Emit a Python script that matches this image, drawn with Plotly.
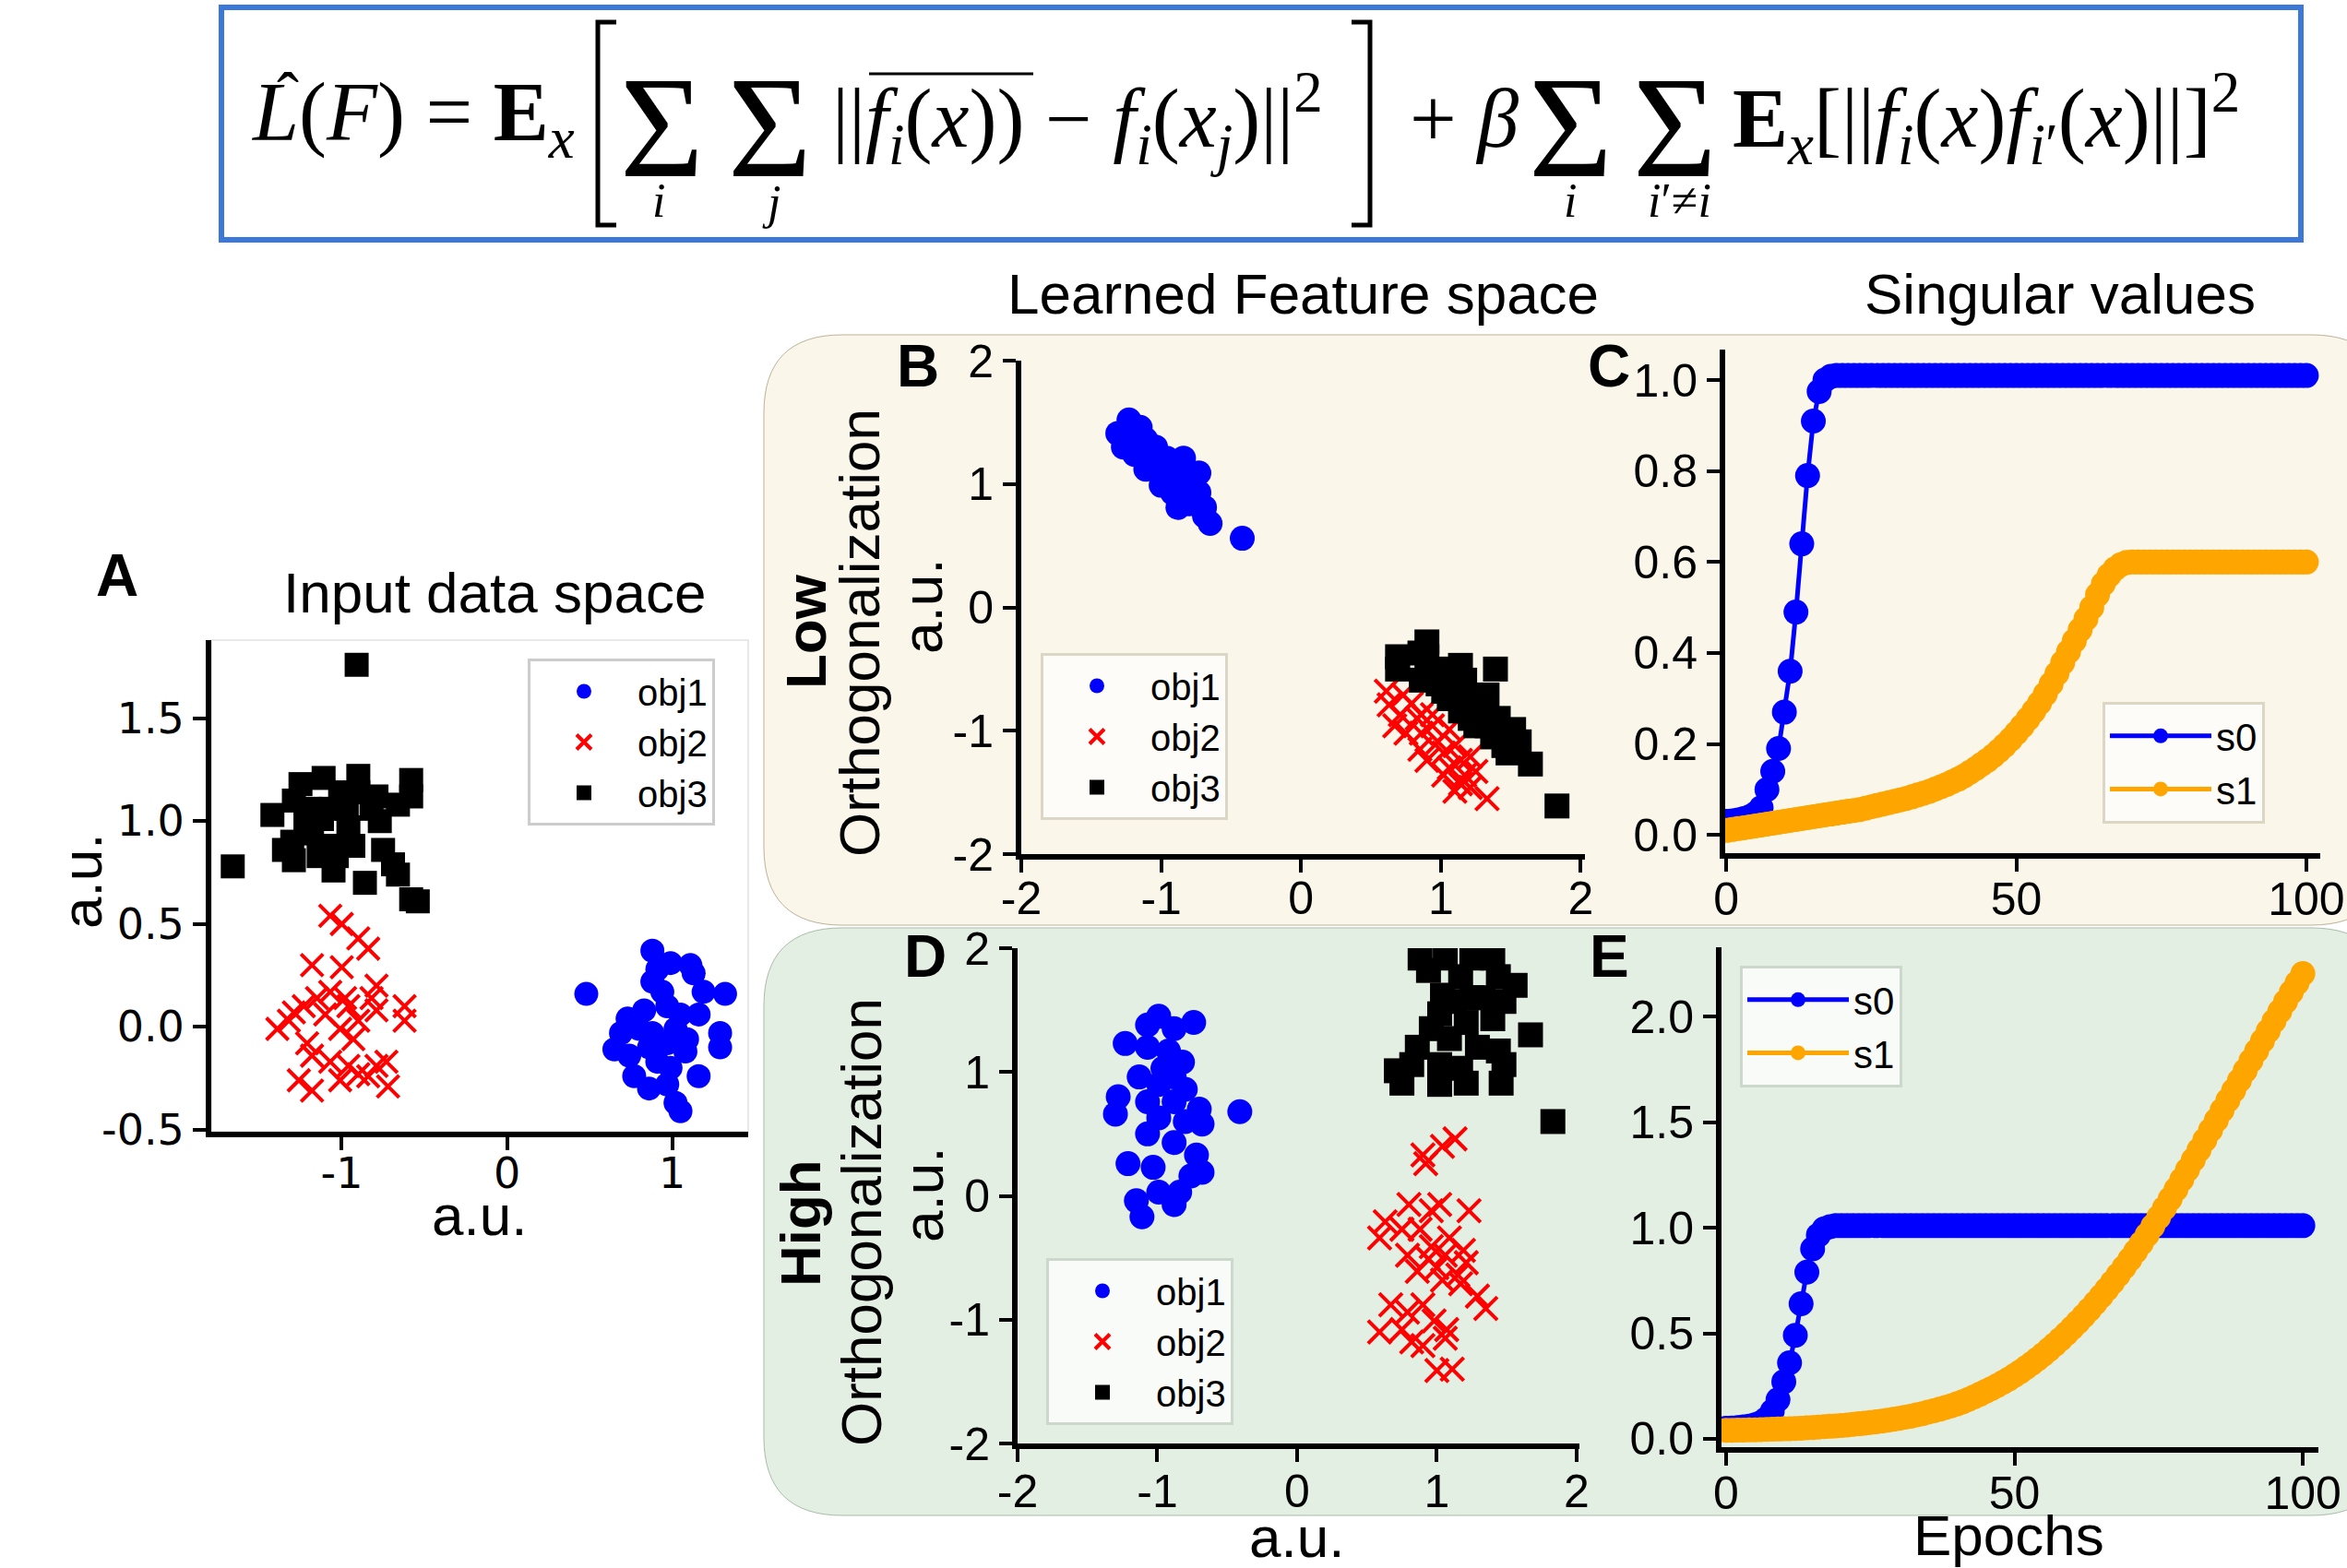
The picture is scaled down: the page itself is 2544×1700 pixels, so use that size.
import plotly.graph_objects as go

W, H = 2544, 1700
def px(v): return v / W
def py(v): return 1 - v / H

# ------------------------------------------------------------------ data
epochs = list(range(101))

a_obj1_x = [0.48, 0.88, 0.99, 1.11, 1.13, 1.32, 0.88, 0.94, 0.73, 0.83, 0.97, 1.05, 1.16, 0.80, 0.88, 1.02, 0.65, 0.74, 0.86, 0.97, 1.08, 1.29, 1.29, 0.77, 0.86, 0.97, 0.99, 1.16, 1.02, 1.05, 0.69, 1.19, 0.91, 1.09, 0.91]
a_obj1_y = [0.16, 0.37, 0.31, 0.30, 0.26, 0.16, 0.22, 0.17, 0.04, 0.08, 0.10, 0.06, 0.06, -0.01, -0.03, -0.01, -0.11, -0.14, -0.10, -0.08, -0.12, -0.03, -0.10, -0.24, -0.30, -0.28, -0.20, -0.24, -0.37, -0.41, -0.03, 0.17, 0.28, -0.06, -0.17]
a_obj2_x = [-1.07, -1.00, -0.90, -0.84, -1.18, -1.00, -0.79, -1.39, -1.32, -1.23, -1.15, -1.07, -0.96, -0.90, -0.82, -0.79, -0.62, -0.62, -1.21, -1.18, -1.07, -0.96, -1.01, -0.93, -0.79, -0.73, -1.26, -1.18, -1.01, -0.90, -0.84, -0.72, -1.10, -0.98, -1.29]
a_obj2_y = [0.54, 0.50, 0.43, 0.38, 0.30, 0.29, 0.20, -0.01, 0.03, 0.10, 0.14, 0.17, 0.10, 0.03, 0.14, 0.08, 0.10, 0.03, -0.08, -0.14, -0.17, -0.19, -0.01, -0.06, -0.19, -0.17, -0.26, -0.31, -0.26, -0.23, -0.24, -0.29, 0.06, 0.14, 0.07]
a_obj3_x = [-0.91, -1.66, -1.42, -1.25, -1.11, -0.90, -0.58, -0.58, -0.66, -0.79, -0.77, -1.01, -1.07, -1.19, -1.29, -1.18, -1.30, -1.29, -1.14, -1.05, -0.93, -0.96, -0.86, -0.75, -0.66, -0.58, -0.54, -1.12, -1.07, -0.97, -0.82, -1.22, -1.03, -0.90, -1.35, -0.69]
a_obj3_y = [1.76, 0.78, 1.03, 1.18, 1.21, 1.22, 1.20, 1.12, 1.08, 1.12, 1.00, 1.14, 1.06, 1.06, 1.10, 0.94, 0.90, 0.81, 0.83, 0.76, 0.88, 0.97, 0.70, 0.86, 0.74, 0.62, 0.61, 1.01, 0.88, 1.06, 1.06, 1.01, 0.83, 1.14, 0.86, 0.79]

b_obj1_x = [-1.23, -1.31, -1.11, -1.19, -1.04, -0.96, -1.11, -0.88, -0.73, -1.00, -0.84, -0.76, -0.69, -0.88, -0.65, -0.42, -1.19, -1.07, -0.96, -0.80, -1.04, -0.92, -0.80, -0.73, -1.15, -1.27, -1.00, -0.84, -0.92, -0.69]
b_obj1_y = [1.52, 1.41, 1.36, 1.24, 1.30, 1.21, 1.12, 1.09, 1.09, 0.99, 0.93, 0.87, 0.81, 0.81, 0.68, 0.56, 1.33, 1.18, 1.05, 0.99, 1.27, 1.15, 0.84, 0.93, 1.46, 1.30, 1.15, 1.21, 0.93, 0.74]
b_obj2_x = [0.61, 0.63, 0.71, 0.79, 0.83, 0.67, 0.86, 0.94, 0.98, 0.85, 1.02, 1.10, 1.14, 1.21, 1.06, 1.17, 1.25, 1.10, 1.33, 0.90, 0.75, 0.94, 1.02, 1.14, 0.86, 1.06, 1.21, 0.73]
b_obj2_y = [-0.68, -0.79, -0.87, -0.78, -0.90, -0.96, -1.02, -0.96, -1.09, -1.15, -1.18, -1.12, -1.24, -1.21, -1.30, -1.36, -1.33, -1.49, -1.55, -1.24, -1.02, -0.87, -1.36, -1.43, -0.87, -0.99, -1.46, -0.71]
b_obj3_x = [0.90, 0.69, 0.69, 0.90, 0.98, 1.39, 0.86, 1.06, 1.17, 1.02, 1.21, 1.14, 1.29, 1.25, 1.41, 1.37, 1.52, 1.48, 1.56, 1.64, 1.83, 0.98, 1.12, 1.33, 1.21, 1.45, 1.06, 0.85, 1.33, 1.14]
b_obj3_y = [-0.28, -0.40, -0.50, -0.40, -0.50, -0.50, -0.59, -0.56, -0.59, -0.68, -0.74, -0.84, -0.84, -0.96, -0.90, -1.05, -0.99, -1.18, -1.09, -1.27, -1.61, -0.62, -0.67, -0.71, -0.90, -1.12, -0.74, -0.37, -0.96, -0.47]

d_obj1_x = [-0.99, -1.07, -0.88, -0.74, -1.23, -1.07, -0.92, -0.82, -1.13, -0.99, -0.80, -1.28, -1.30, -1.07, -0.88, -0.70, -0.41, -0.99, -0.80, -0.68, -1.07, -0.88, -0.72, -1.21, -1.03, -0.68, -0.76, -1.15, -1.11, -0.88, -0.84, -0.99, -0.96, -0.88]
d_obj1_y = [1.45, 1.38, 1.35, 1.40, 1.23, 1.20, 1.17, 1.08, 0.96, 0.90, 0.86, 0.80, 0.66, 0.76, 0.76, 0.70, 0.68, 0.63, 0.60, 0.58, 0.50, 0.43, 0.33, 0.26, 0.23, 0.19, 0.16, -0.04, -0.17, -0.07, 0.03, 0.03, 1.03, 0.96]
d_obj2_x = [1.13, 1.04, 0.90, 0.92, 0.80, 1.02, 0.96, 1.23, 0.63, 0.59, 0.75, 0.88, 0.96, 1.09, 0.79, 0.94, 1.06, 1.19, 0.86, 1.00, 1.15, 1.21, 0.67, 1.29, 1.35, 0.79, 0.90, 0.59, 0.75, 0.98, 1.07, 0.82, 0.90, 1.06, 1.00, 1.11, 1.17, 1.04]
d_obj2_y = [0.46, 0.40, 0.33, 0.26, -0.07, -0.07, -0.12, -0.12, -0.21, -0.34, -0.27, -0.27, -0.41, -0.34, -0.48, -0.51, -0.48, -0.44, -0.61, -0.58, -0.64, -0.54, -0.88, -0.81, -0.91, -0.94, -0.88, -1.10, -1.08, -1.01, -1.08, -1.18, -1.21, -1.15, -1.41, -1.40, -0.71, -0.68]
d_obj3_x = [0.88, 1.06, 1.25, 1.40, 0.94, 1.17, 1.44, 1.56, 1.04, 1.25, 1.48, 1.02, 1.21, 1.40, 0.96, 1.09, 1.67, 0.86, 1.29, 1.44, 0.71, 0.82, 1.02, 1.17, 1.48, 0.75, 1.02, 1.21, 1.46, 1.83, 1.33, 1.13]
d_obj3_y = [1.92, 1.92, 1.92, 1.92, 1.82, 1.77, 1.77, 1.70, 1.62, 1.60, 1.57, 1.47, 1.40, 1.43, 1.35, 1.27, 1.30, 1.20, 1.20, 1.17, 1.01, 1.06, 1.06, 1.03, 1.06, 0.91, 0.90, 0.91, 0.91, 0.60, 1.60, 1.57]

c_s0 = [0.030, 0.031, 0.033, 0.036, 0.040, 0.047, 0.060, 0.100, 0.140, 0.190,
        0.270, 0.360, 0.490, 0.640, 0.790, 0.910, 0.975, 1.000, 1.008, 1.010,
        1.010, 1.010, 1.010, 1.010, 1.010, 1.010, 1.010, 1.010, 1.010, 1.010,
        1.010, 1.010, 1.010, 1.010, 1.010, 1.010, 1.010, 1.010, 1.010, 1.010,
        1.010, 1.010, 1.010, 1.010, 1.010, 1.010, 1.010, 1.010, 1.010, 1.010,
        1.010, 1.010, 1.010, 1.010, 1.010, 1.010, 1.010, 1.010, 1.010, 1.010,
        1.010, 1.010, 1.010, 1.010, 1.010, 1.010, 1.010, 1.010, 1.010, 1.010,
        1.010, 1.010, 1.010, 1.010, 1.010, 1.010, 1.010, 1.010, 1.010, 1.010,
        1.010, 1.010, 1.010, 1.010, 1.010, 1.010, 1.010, 1.010, 1.010, 1.010,
        1.010, 1.010, 1.010, 1.010, 1.010, 1.010, 1.010, 1.010, 1.010, 1.010,
        1.010]
c_s1 = [0.010, 0.012, 0.014, 0.016, 0.018, 0.020, 0.022, 0.024, 0.026, 0.028,
        0.030, 0.032, 0.034, 0.036, 0.038, 0.040, 0.042, 0.044, 0.046, 0.048,
        0.050, 0.052, 0.054, 0.056, 0.059, 0.062, 0.065, 0.068, 0.071, 0.074,
        0.077, 0.080, 0.084, 0.088, 0.092, 0.096, 0.101, 0.106, 0.111, 0.117,
        0.123, 0.130, 0.138, 0.146, 0.155, 0.164, 0.174, 0.185, 0.197, 0.210,
        0.224, 0.239, 0.255, 0.272, 0.290, 0.310, 0.332, 0.355, 0.379, 0.403,
        0.427, 0.451, 0.475, 0.500, 0.528, 0.552, 0.571, 0.585, 0.594, 0.599,
        0.600, 0.600, 0.600, 0.600, 0.600, 0.600, 0.600, 0.600, 0.600, 0.600,
        0.600, 0.600, 0.600, 0.600, 0.600, 0.600, 0.600, 0.600, 0.600, 0.600,
        0.600, 0.600, 0.600, 0.600, 0.600, 0.600, 0.600, 0.600, 0.600, 0.600,
        0.600]
e_s0 = [0.050, 0.051, 0.053, 0.056, 0.060, 0.066, 0.076, 0.095, 0.130, 0.185,
        0.270, 0.360, 0.490, 0.640, 0.790, 0.900, 0.965, 0.995, 1.005, 1.010,
        1.010, 1.010, 1.010, 1.010, 1.010, 1.010, 1.010, 1.010, 1.010, 1.010,
        1.010, 1.010, 1.010, 1.010, 1.010, 1.010, 1.010, 1.010, 1.010, 1.010,
        1.010, 1.010, 1.010, 1.010, 1.010, 1.010, 1.010, 1.010, 1.010, 1.010,
        1.010, 1.010, 1.010, 1.010, 1.010, 1.010, 1.010, 1.010, 1.010, 1.010,
        1.010, 1.010, 1.010, 1.010, 1.010, 1.010, 1.010, 1.010, 1.010, 1.010,
        1.010, 1.010, 1.010, 1.010, 1.010, 1.010, 1.010, 1.010, 1.010, 1.010,
        1.010, 1.010, 1.010, 1.010, 1.010, 1.010, 1.010, 1.010, 1.010, 1.010,
        1.010, 1.010, 1.010, 1.010, 1.010, 1.010, 1.010, 1.010, 1.010, 1.010,
        1.010]
e_s1 = [0.040, 0.040, 0.041, 0.041, 0.042, 0.042, 0.043, 0.044, 0.045, 0.046,
        0.047, 0.048, 0.049, 0.050, 0.052, 0.053, 0.055, 0.057, 0.059, 0.061,
        0.063, 0.065, 0.068, 0.071, 0.074, 0.077, 0.080, 0.084, 0.088, 0.092,
        0.097, 0.102, 0.107, 0.113, 0.119, 0.126, 0.133, 0.140, 0.148, 0.156,
        0.165, 0.175, 0.186, 0.198, 0.211, 0.225, 0.238, 0.252, 0.267, 0.283,
        0.300, 0.318, 0.337, 0.357, 0.378, 0.400, 0.423, 0.447, 0.472, 0.498,
        0.525, 0.553, 0.582, 0.612, 0.643, 0.675, 0.708, 0.742, 0.777, 0.813,
        0.850, 0.888, 0.927, 0.967, 1.008, 1.050, 1.093, 1.137, 1.182, 1.228,
        1.275, 1.322, 1.369, 1.416, 1.463, 1.510, 1.557, 1.604, 1.651, 1.698,
        1.745, 1.792, 1.839, 1.886, 1.933, 1.980, 2.026, 2.072, 2.117, 2.161,
        2.205]

a_xticks = [-1, 0, 1]
a_xticktext = ["-1", "0", "1"]
a_yticks = [-0.5, 0.0, 0.5, 1.0, 1.5]
a_yticktext = ["-0.5", "0.0", "0.5", "1.0", "1.5"]
feat_ticks = [-2, -1, 0, 1, 2]
feat_ticktext = ["-2", "-1", "0", "1", "2"]
ep_ticks = [0, 50, 100]
ep_ticktext = ["0", "50", "100"]
c_yticks = [0.0, 0.2, 0.4, 0.6, 0.8, 1.0]
c_yticktext = ["0.0", "0.2", "0.4", "0.6", "0.8", "1.0"]
e_yticks = [0.0, 0.5, 1.0, 1.5, 2.0]
e_yticktext = ["0.0", "0.5", "1.0", "1.5", "2.0"]

# ------------------------------------------------------------------ styles
BLUE, RED, BLACK, ORANGE = "#0000FF", "#FF0000", "#000000", "#FFA500"
SANS = "Liberation Sans, Arial, sans-serif"
SERIF = "Liberation Serif, Times New Roman, serif"

fig = go.Figure()

def scatter_set(xs1, ys1, xs2, ys2, xs3, ys3, xa, ya, leg, s):
    fig.add_trace(go.Scatter(x=xs1, y=ys1, mode="markers", name="obj1", xaxis=xa, yaxis=ya, legend=leg,
                             marker=dict(symbol="circle", size=s, color=BLUE, line=dict(width=0))))
    fig.add_trace(go.Scatter(x=xs2, y=ys2, mode="markers", name="obj2", xaxis=xa, yaxis=ya, legend=leg,
                             marker=dict(symbol="x-thin", size=s - 2, color=RED, line=dict(width=4, color=RED))))
    fig.add_trace(go.Scatter(x=xs3, y=ys3, mode="markers", name="obj3", xaxis=xa, yaxis=ya, legend=leg,
                             marker=dict(symbol="square", size=s, color=BLACK, line=dict(width=0))))

scatter_set(a_obj1_x, a_obj1_y, a_obj2_x, a_obj2_y, a_obj3_x, a_obj3_y, "x", "y", "legend", 26)
scatter_set(b_obj1_x, b_obj1_y, b_obj2_x, b_obj2_y, b_obj3_x, b_obj3_y, "x2", "y2", "legend2", 27)
scatter_set(d_obj1_x, d_obj1_y, d_obj2_x, d_obj2_y, d_obj3_x, d_obj3_y, "x4", "y4", "legend3", 27)

def line_set(s0, s1, xa, ya, leg):
    fig.add_trace(go.Scatter(x=epochs, y=s0, mode="lines+markers", name="s0", xaxis=xa, yaxis=ya, legend=leg,
                             line=dict(color=BLUE, width=5), marker=dict(size=27, color=BLUE)))
    fig.add_trace(go.Scatter(x=epochs, y=s1, mode="lines+markers", name="s1", xaxis=xa, yaxis=ya, legend=leg,
                             line=dict(color=ORANGE, width=5), marker=dict(size=27, color=ORANGE)))

line_set(c_s0, c_s1, "x3", "y3", "legend4")
line_set(e_s0, e_s1, "x5", "y5", "legend5")

# ------------------------------------------------------------------ axes
def axis(domain, rng, tickvals, ticktext, font_family, font_size, anchor, standoff=0):
    return dict(domain=domain, range=rng, tickvals=tickvals, ticktext=ticktext, anchor=anchor,
                showgrid=False, zeroline=False, showline=True, linecolor="black", linewidth=6,
                ticks="outside", ticklen=14, tickwidth=4, tickcolor="black", automargin=False,
                ticklabelstandoff=standoff,
                tickfont=dict(family=font_family, size=font_size, color="black"), fixedrange=True)

lay = dict(
    xaxis=axis([px(229), px(811)], [-1.79, 1.46], a_xticks, a_xticktext, "DejaVu Sans", 46, "y", -14),
    yaxis=axis([py(1227), py(694)], [-0.51, 1.88], a_yticks, a_yticktext, "DejaVu Sans", 46, "x"),
    xaxis2=axis([px(1107), px(1718)], [-2.0, 2.03], feat_ticks, feat_ticktext, SANS, 50, "y2", -15),
    yaxis2=axis([py(926), py(391)], [-2.0, 2.0], feat_ticks, feat_ticktext, SANS, 50, "x2"),
    xaxis3=axis([px(1870), px(2515)], [-0.2, 102.4], ep_ticks, ep_ticktext, SANS, 50, "y3", -13),
    yaxis3=axis([py(925), py(379)], [-0.04, 1.067], c_yticks, c_yticktext, SANS, 50, "x3"),
    xaxis4=axis([px(1103), px(1712)], [-2.0, 2.02], feat_ticks, feat_ticktext, SANS, 50, "y4", -11),
    yaxis4=axis([py(1565), py(1028)], [-2.0, 2.0], feat_ticks, feat_ticktext, SANS, 50, "x4"),
    xaxis5=axis([px(1866), px(2513)], [-0.8, 102.7], ep_ticks, ep_ticktext, SANS, 50, "y5", -13),
    yaxis5=axis([py(1569), py(1027)], [-0.04, 2.33], e_yticks, e_yticktext, SANS, 50, "x5"),
)

def legend(x, y, iw, fs, bg, bc):
    return dict(x=px(x), y=py(y), xanchor="left", yanchor="top", bgcolor=bg, bordercolor=bc, borderwidth=3,
                font=dict(family=SANS, size=fs, color="black"), itemsizing="trace", itemwidth=iw,
                tracegroupgap=0)

lay["legend"] = legend(572, 714, 106, 40, "white", "#CCCCCC")
lay["legend2"] = legend(1128, 708, 106, 40, "#FDFCF8", "#DCD6C4")
lay["legend3"] = legend(1134, 1364, 106, 40, "#F8FBF8", "#CCD8CC")
lay["legend4"] = legend(2279, 761, 110, 42, "#FDFCF8", "#DCD6C4")
lay["legend5"] = legend(1886, 1047, 110, 42, "#F8FBF8", "#CCD8CC")

# ------------------------------------------------------------------ shapes
def rrect(x0, y0, x1, y1, r):
    P = lambda a, b: f"{px(a):.5f},{py(b):.5f}"
    return ("M" + P(x0 + r, y0) + " L" + P(x1 - r, y0) + " Q" + P(x1, y0) + " " + P(x1, y0 + r) +
            " L" + P(x1, y1 - r) + " Q" + P(x1, y1) + " " + P(x1 - r, y1) +
            " L" + P(x0 + r, y1) + " Q" + P(x0, y1) + " " + P(x0, y1 - r) +
            " L" + P(x0, y0 + r) + " Q" + P(x0, y0) + " " + P(x0 + r, y0) + " Z")

shapes = [
    dict(type="path", xref="paper", yref="paper", path=rrect(828, 363, 2590, 1003, 85),
         fillcolor="#FAF6E9", line=dict(color="#BDB29A", width=1), layer="below"),
    dict(type="path", xref="paper", yref="paper", path=rrect(828, 1006, 2590, 1643, 85),
         fillcolor="#E4EFE3", line=dict(color="#A9BBA9", width=1), layer="below"),
    dict(type="rect", xref="paper", yref="paper", x0=px(229), x1=px(811), y0=py(1227), y1=py(694),
         line=dict(color="#E2E2E2", width=1.5), layer="below"),
    dict(type="rect", xref="paper", yref="paper", x0=px(240), x1=px(2494), y0=py(260), y1=py(8),
         line=dict(color="#3C78D8", width=6), fillcolor="white", layer="below"),
    # big brackets of the formula
    dict(type="path", xref="paper", yref="paper",
         path=f"M{px(668)},{py(24)} L{px(648)},{py(24)} L{px(648)},{py(244)} L{px(668)},{py(244)}",
         line=dict(color="black", width=5)),
    dict(type="path", xref="paper", yref="paper",
         path=f"M{px(1465)},{py(24)} L{px(1485)},{py(24)} L{px(1485)},{py(244)} L{px(1465)},{py(244)}",
         line=dict(color="black", width=5)),
    # overline
    dict(type="line", xref="paper", yref="paper", x0=px(942), x1=px(1120), y0=py(80), y1=py(80),
         line=dict(color="black", width=3)),
]

# ------------------------------------------------------------------ annotations
anns = []
def ann(text, x, y, size, family=SANS, xanchor="center", yanchor="middle", angle=0):
    anns.append(dict(text=text, x=px(x), y=py(y), xref="paper", yref="paper", showarrow=False,
                     xanchor=xanchor, yanchor=yanchor, textangle=angle,
                     font=dict(family=family, size=size, color="black")))

# formula
ann("<i>L</i>(<i>F</i>) = <b>E</b><sub><i>x</i></sub>", 270, 128, 90, SERIF, xanchor="left")
ann("ˆ", 312, 104, 72, SERIF)
ann("Σ", 717, 138, 156, SERIF)
ann("Σ", 834, 138, 156, SERIF)
ann("<i>i</i>", 714, 218, 52, SERIF)
ann("<i>j</i>", 836, 220, 52, SERIF)
ann("||<i>f</i><sub><i>i</i></sub>(<i>x</i>)) − <i>f</i><sub><i>i</i></sub>(<i>x</i><sub><i>j</i></sub>)||<sup>2</sup>",
    900, 128, 90, SERIF, xanchor="left")
ann("+ <i>β</i>", 1526, 128, 90, SERIF, xanchor="left")
ann("Σ", 1702, 138, 156, SERIF)
ann("Σ", 1815, 138, 156, SERIF)
ann("<i>i</i>", 1702, 218, 52, SERIF)
ann("<i>i</i>′≠<i>i</i>", 1820, 218, 52, SERIF)
ann("<b>E</b><sub><i>x</i></sub>[||<i>f</i><sub><i>i</i></sub>(<i>x</i>)<i>f</i><sub><i>i</i>′</sub>(<i>x</i>)||]<sup>2</sup>",
    1876, 128, 90, SERIF, xanchor="left")

# panel titles and letters
ann("Input data space", 536, 642, 62)
ann("Learned Feature space", 1412, 319, 62)
ann("Singular values", 2233, 319, 62)
ann("<b>A</b>", 127, 624, 64)
ann("<b>B</b>", 995, 397, 64)
ann("<b>C</b>", 1744, 397, 64)
ann("<b>D</b>", 1003, 1037, 64)
ann("<b>E</b>", 1744, 1037, 64)

# axis titles
ann("a.u.", 519, 1317, 62)
ann("a.u.", 88, 956, 62, angle=-90)
ann("<b>Low</b>", 873, 685, 62, angle=-90)
ann("Orthogonalization", 931, 686, 62, angle=-90)
ann("a.u.", 999, 658, 62, angle=-90)
ann("<b>High</b>", 867, 1326, 62, angle=-90)
ann("Orthogonalization", 933, 1325, 62, angle=-90)
ann("a.u.", 1000, 1296, 62, angle=-90)
ann("a.u.", 1405, 1666, 62)
ann("Epochs", 2177, 1664, 62)

fig.update_layout(
    width=W, height=H, autosize=False,
    margin=dict(l=0, r=0, t=0, b=0, pad=0, autoexpand=False),
    paper_bgcolor="white", plot_bgcolor="rgba(0,0,0,0)",
    shapes=shapes, annotations=anns, showlegend=True,
    **lay,
)

fig.write_html("out.html", config={"displayModeBar": False},
               post_script="document.body.style.margin='0px';")
